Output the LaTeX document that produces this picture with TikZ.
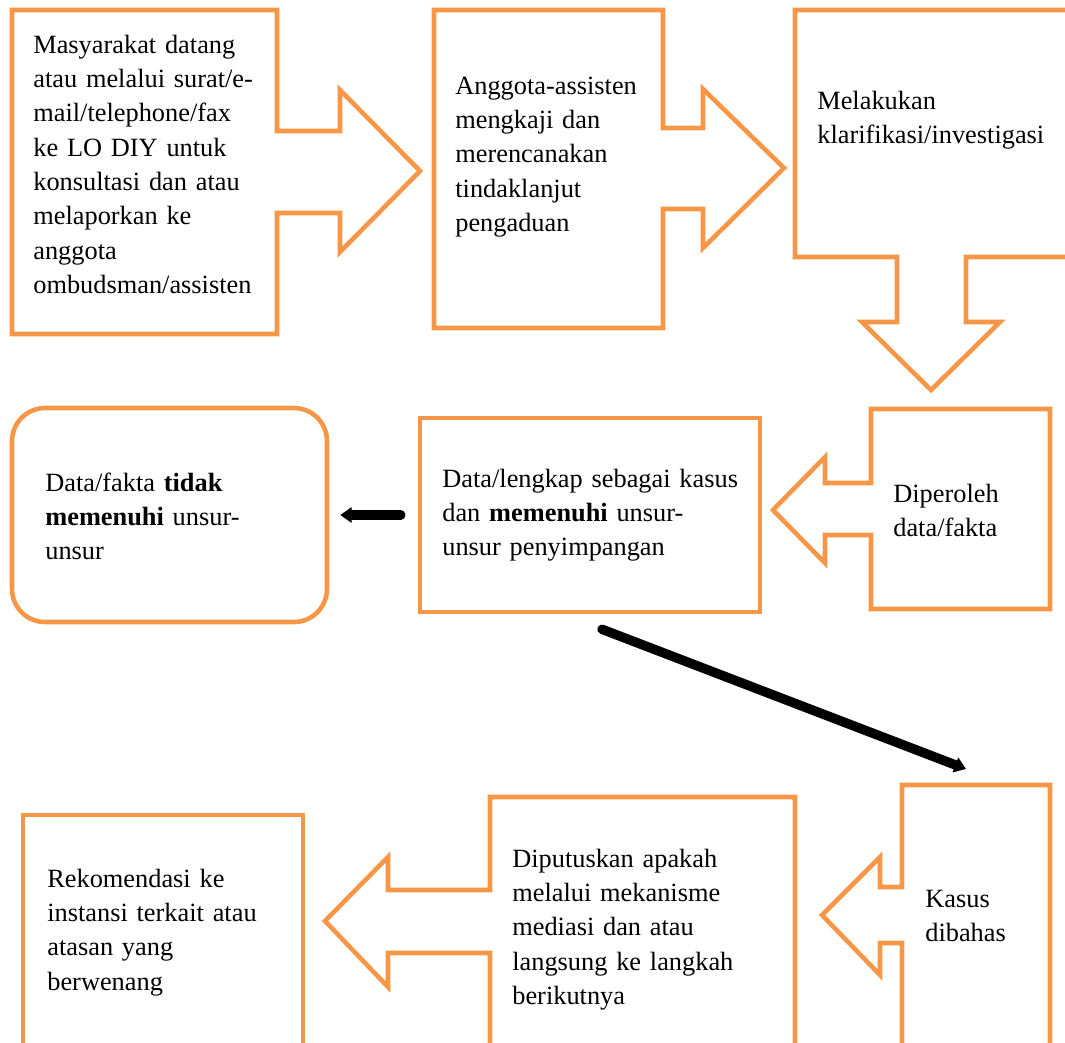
\documentclass[tikz,border=0pt]{standalone}
\usepackage{fontspec}
\setmainfont{Liberation Serif}
\usetikzlibrary{arrows.meta, positioning}
\definecolor{boxorange}{RGB}{247,150,70}

\begin{document}
\begin{tikzpicture}[x=0.02cm, y=-0.02cm,
  callout/.style={draw=boxorange, line width=2.6pt},
  plainbox/.style={rectangle, draw=boxorange, line width=2.6pt, inner sep=0pt},
  txt/.style={anchor=base west, inner sep=0pt, align=left, text width=7cm,
              font=\fontsize{15}{19.56}\selectfont},
  flow/.style={-{Triangle[length=0pt 1.2, width=0pt 1.6]}, line width=5.4pt, line cap=round}
]
\useasboundingbox (0,0) rectangle (1065,1042);
\clip (0,0) rectangle (1065,1042);

% top row, arrows to the right
\draw[callout] (12,10) -- (277,10) -- (277,131) -- (340,131) -- (340,90) -- (420,171)
  -- (340,252) -- (340,213) -- (277,213) -- (277,334) -- (12,334) -- cycle;
\draw[callout] (434,10) -- (663,10) -- (663,128) -- (703,128) -- (703,89) -- (784,168)
  -- (703,248) -- (703,209) -- (663,209) -- (663,328) -- (434,328) -- cycle;
\draw[callout] (1100,10) -- (795,10) -- (795,257) -- (897,257) -- (897,322) -- (862,322)
  -- (931,390) -- (1000,322) -- (966,322) -- (966,257) -- (1100,257);

% middle row
\draw[callout] (871,409) -- (1050,409) -- (1050,609) -- (871,609) -- (871,535) -- (825,535)
  -- (825,563) -- (773,510) -- (825,457) -- (825,483) -- (871,483) -- cycle;
\node[plainbox, minimum width=6.8cm, minimum height=3.88cm] (lengkap) at (590,515) {};
\node[plainbox, rounded corners=0.66cm, minimum width=6.3cm, minimum height=4.28cm] (tidak) at (169.5,515) {};

% bottom row, arrows to the left
\draw[callout] (902,785) -- (1050,785) -- (1050,1100) -- (902,1100) -- (902,943) -- (880,943)
  -- (880,975) -- (822,915) -- (880,857) -- (880,887) -- (902,887) -- cycle;
\draw[callout] (490,797) -- (795,797) -- (795,1100) -- (490,1100) -- (490,953) -- (388,953)
  -- (388,987) -- (325,921) -- (388,857) -- (388,890) -- (490,890) -- cycle;
\draw[callout] (23,1100) -- (23,815) -- (303,815) -- (303,1100);
\coordinate (kasustop) at (966,769);

% texts
\node[txt] (masyarakat) at (33,53) {Masyarakat datang\\atau melalui surat/e-\\mail/telephone/fax\\ke LO DIY untuk\\konsultasi dan atau\\melaporkan ke\\anggota\\ombudsman/assisten};
\node[txt] (mengkaji) at (455,94) {Anggota-assisten\\mengkaji dan\\merencanakan\\tindaklanjut\\pengaduan};
\node[txt] (klarifikasi) at (817,109) {Melakukan\\klarifikasi/investigasi};
\node[txt] (diperoleh) at (893,502) {Diperoleh\\data/fakta};
\node[txt] (lengkaptxt) at (442,487) {Data/lengkap sebagai kasus\\dan \textbf{memenuhi} unsur-\\unsur penyimpangan};
\node[txt] (tidaktxt) at (45,491) {Data/fakta \textbf{tidak}\\\textbf{memenuhi} unsur-\\unsur};
\node[txt] (kasus) at (925,907) {Kasus\\dibahas};
\node[txt] (diputuskan) at (512,867) {Diputuskan apakah\\melalui mekanisme\\mediasi dan atau\\langsung ke langkah\\berikutnya};
\node[txt] (rekomendasi) at (47,887) {Rekomendasi ke\\instansi terkait atau\\atasan yang\\berwenang};

% black connectors
\draw[flow, shorten <=0.34cm, shorten >=0.22cm] (lengkap) -- (tidak);
\draw[flow] ([shift={(12,15)}]lengkap.south) -- (kasustop);
\end{tikzpicture}
\end{document}
